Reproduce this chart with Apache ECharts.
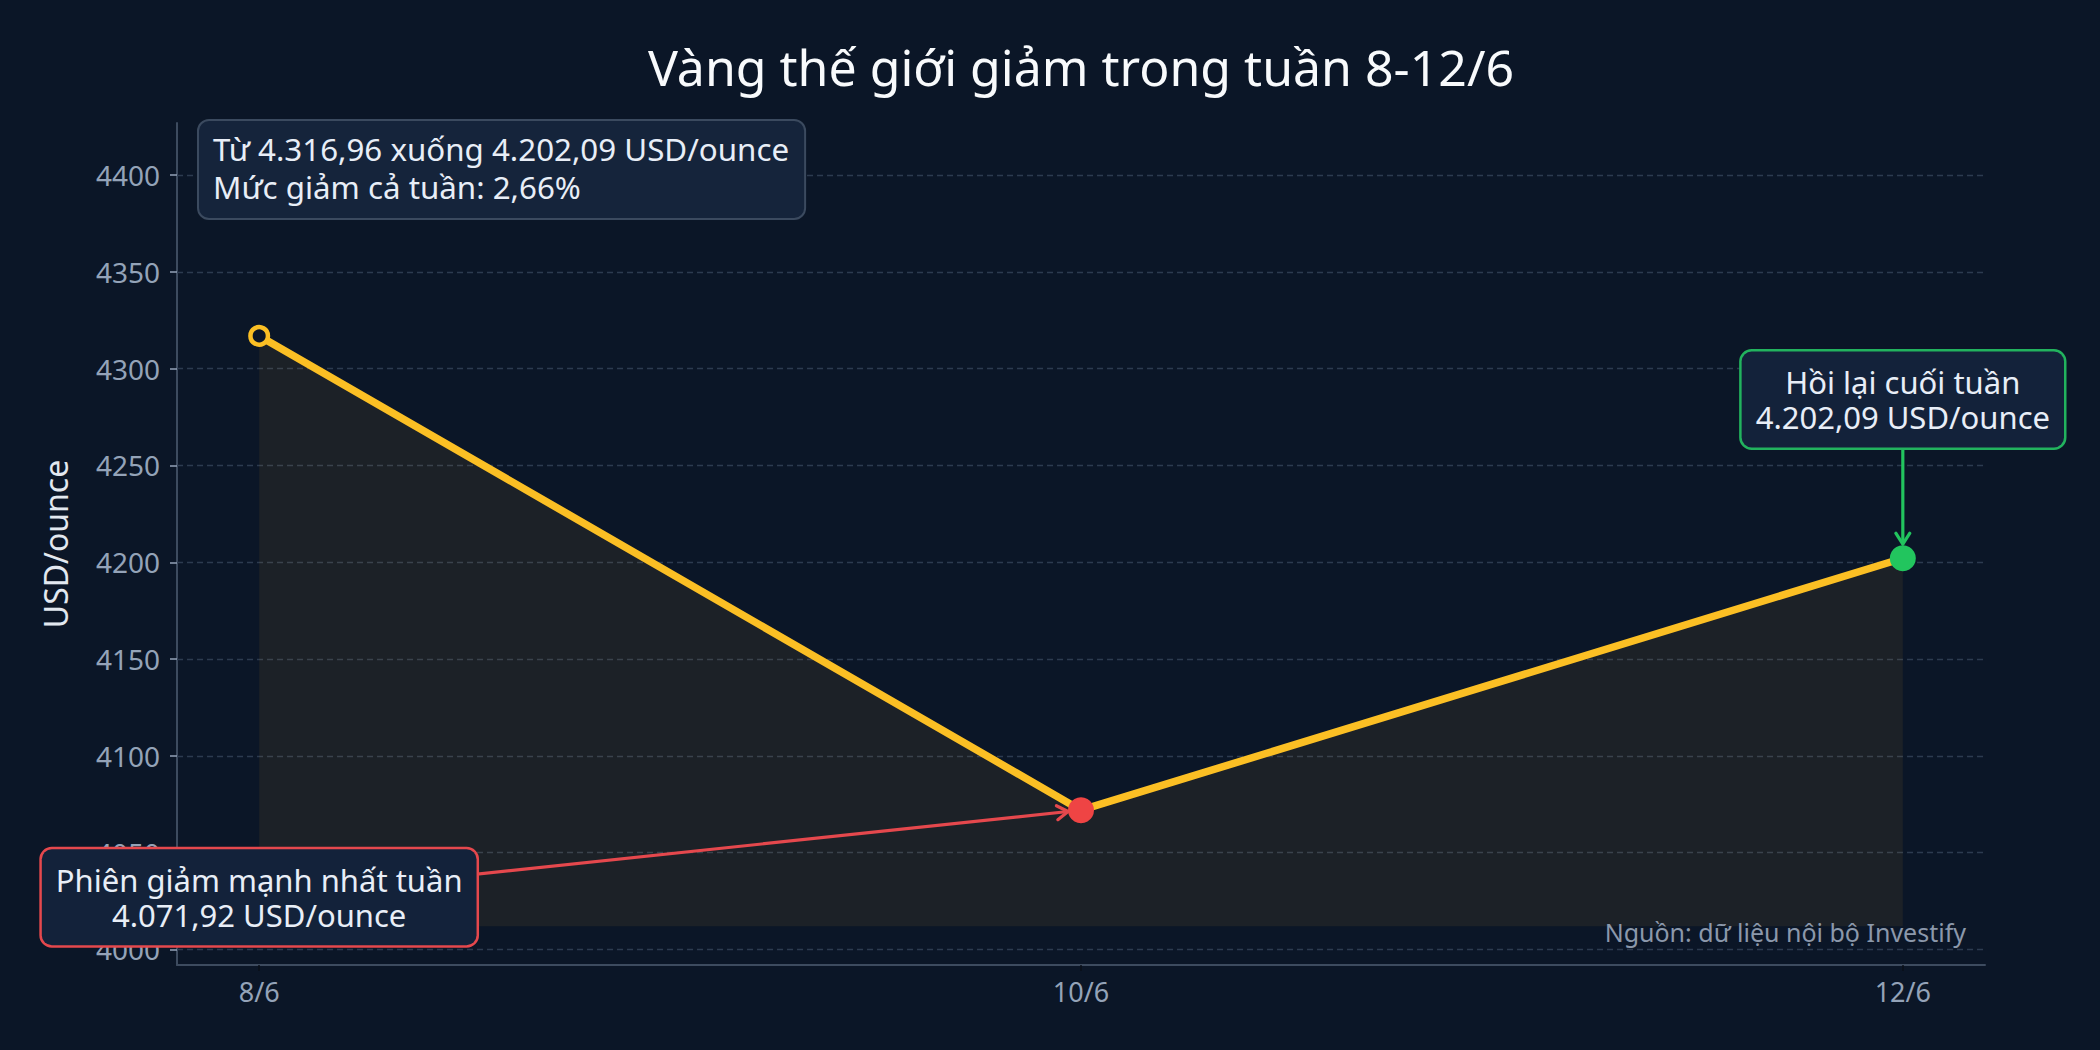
<!DOCTYPE html>
<html>
<head>
<meta charset="utf-8">
<script src="https://cdn.jsdelivr.net/npm/echarts@6/dist/echarts.min.js"></script>
<style>
  html, body { margin: 0; padding: 0; background: #0b1627; }
  #chart { width: 2100px; height: 1050px; }
</style>
</head>
<body>
<div id="chart"></div>
<script>
// ---- data ----
const categories = ['8/6', '10/6', '12/6'];
const prices = [4316.96, 4071.92, 4202.09];
const yTicks = [4000, 4050, 4100, 4150, 4200, 4250, 4300, 4350, 4400];
const xTicks = [0, 1, 2];
const fillBase = 4011.92;
const yMin = 3991.92;
const yMax = 4426.96;
const titleText = 'Vàng thế giới giảm trong tuần 8-12/6';
const infoLines = ['Từ 4.316,96 xuống 4.202,09 USD/ounce', 'Mức giảm cả tuần: 2,66%'];
const sourceText = 'Nguồn: dữ liệu nội bộ Investify';
const lowLines = ['Phiên giảm mạnh nhất tuần', '4.071,92 USD/ounce'];
const endLines = ['Hồi lại cuối tuần', '4.202,09 USD/ounce'];
const lowAnchor = [0, 4026.92];
const endAnchor = [2, 4284.09];

// ---- styles ----
const BG = '#0b1627';
const FONT = '"Noto Sans", "Open Sans", sans-serif';
const GOLD = '#fbbf24';
const RED = '#ef4444';
const GREEN = '#22c55e';

const chart = echarts.init(document.getElementById('chart'), null, { renderer: 'svg', width: 2100, height: 1050 });

const seriesData = prices.map((v, i) => {
  const item = { value: [i, v] };
  if (i === 0) {
    item.symbol = 'circle'; item.symbolSize = 17.5;
    item.itemStyle = { color: BG, borderColor: GOLD, borderWidth: 4.5 };
  } else if (i === 1) {
    item.symbol = 'circle'; item.symbolSize = 26;
    item.itemStyle = { color: RED, borderWidth: 0 };
  } else {
    item.symbol = 'circle'; item.symbolSize = 26;
    item.itemStyle = { color: GREEN, borderWidth: 0 };
  }
  return item;
});

const option = {
  backgroundColor: BG,
  animation: false,
  textStyle: { fontFamily: FONT },
  title: {
    text: titleText,
    left: 1076,
    top: 37,
    textAlign: 'center',
    textStyle: { color: '#f8fafc', fontSize: 50, fontWeight: 'normal', fontFamily: FONT }
  },
  grid: { left: 177, right: 115, top: 123, bottom: 85, containLabel: false },
  xAxis: {
    type: 'value',
    min: -0.1,
    max: 2.1,
    axisLine: { show: true, onZero: false, lineStyle: { color: '#3d4b5f', width: 2 } },
    axisTick: { show: true, customValues: xTicks, length: 6, lineStyle: { color: '#0a0f18', width: 1.5 } },
    axisLabel: {
      show: true, customValues: xTicks, margin: 13,
      color: '#94a3b8', fontSize: 27, fontFamily: FONT,
      formatter: v => categories[Math.round(v)]
    },
    splitLine: { show: false }
  },
  yAxis: {
    type: 'value',
    min: yMin,
    max: yMax,
    name: 'USD/ounce',
    nameLocation: 'middle',
    nameGap: 106,
    nameTextStyle: { color: '#e2e8f0', fontSize: 32, fontFamily: FONT },
    axisLine: { show: true, onZero: false, lineStyle: { color: '#3d4b5f', width: 2 } },
    axisTick: { show: true, customValues: yTicks, length: 7, lineStyle: { color: '#94a3b8', width: 1.5 } },
    axisLabel: {
      show: true, customValues: yTicks, margin: 17,
      color: '#94a3b8', fontSize: 28, fontFamily: FONT,
      formatter: v => String(Math.round(v))
    },
    splitLine: { show: false }
  },
  series: [
    {
      type: 'line',
      data: [],
      z: 1,
      silent: true,
      markLine: {
        z: 1,
        silent: true,
        symbol: 'none',
        label: { show: false },
        animation: false,
        lineStyle: { color: '#2c3b4f', type: [6, 4], width: 1.4 },
        emphasis: { disabled: true },
        data: yTicks.map(v => ({ yAxis: v }))
      }
    },
    {
      type: 'line',
      data: seriesData,
      z: 3,
      silent: true,
      showSymbol: true,
      lineStyle: { color: GOLD, width: 7.5, cap: 'round', join: 'round' },
      areaStyle: { color: 'rgba(251,191,36,0.1)', origin: fillBase },
      emphasis: { disabled: true }
    }
  ]
};

chart.setOption(option);

function toPx(p) { return chart.convertToPixel({ gridIndex: 0 }, p); }

function arrow(from, to, color, shrink) {
  const dx = to[0] - from[0], dy = to[1] - from[1];
  const len = Math.hypot(dx, dy);
  const ux = dx / len, uy = dy / len;
  const tip = [to[0] - ux * shrink, to[1] - uy * shrink];
  const back = [tip[0] - ux * 11, tip[1] - uy * 11];
  const px = -uy, py = ux;
  return [
    { type: 'line', z: 5, silent: true,
      shape: { x1: from[0], y1: from[1], x2: tip[0], y2: tip[1] },
      style: { stroke: color, lineWidth: 3.2 } },
    { type: 'polyline', z: 5, silent: true,
      shape: { points: [[back[0] + px * 7, back[1] + py * 7], tip, [back[0] - px * 7, back[1] - py * 7]] },
      style: { stroke: color, lineWidth: 3.2, fill: 'none', lineCap: 'round', lineJoin: 'round' } }
  ];
}

function box(pos, lines, border) {
  return {
    type: 'text', z: 10, silent: true,
    x: pos[0], y: pos[1],
    style: {
      text: lines.join('\n'),
      align: 'center', verticalAlign: 'middle',
      fill: '#e8eef7',
      font: '31px ' + FONT,
      lineHeight: 35,
      backgroundColor: '#13223a',
      borderColor: border, borderWidth: 2.5, borderRadius: 10,
      padding: [13, 14, 13, 14]
    }
  };
}

const lowPt = toPx([1, prices[1]]);
const endPt = toPx([2, prices[2]]);
const lowBox = toPx(lowAnchor);
const endBox = toPx(endAnchor);

const graphics = []
  .concat(arrow(lowBox, lowPt, '#e5484d', 13))
  .concat(arrow(endBox, endPt, GREEN, 14))
  .concat([
    box(lowBox, lowLines, '#e5484d'),
    box(endBox, endLines, '#22b35e'),
    {
      type: 'text', z: 10, silent: true,
      x: 199, y: 121,
      style: {
        text: infoLines.join('\n'),
        align: 'left', verticalAlign: 'top',
        fill: '#e8eef7',
        font: '31.3px ' + FONT,
        lineHeight: 38,
        backgroundColor: '#15243b',
        borderColor: '#3b4a5f', borderWidth: 2, borderRadius: 10,
        padding: [9, 15, 12, 14]
      }
    },
    {
      type: 'text', z: 10, silent: true,
      x: 1966, y: 932,
      style: {
        text: sourceText,
        align: 'right', verticalAlign: 'middle',
        fill: '#8b98ab',
        font: '25px ' + FONT
      }
    }
  ]);

chart.setOption({ graphic: graphics });
</script>
</body>
</html>
